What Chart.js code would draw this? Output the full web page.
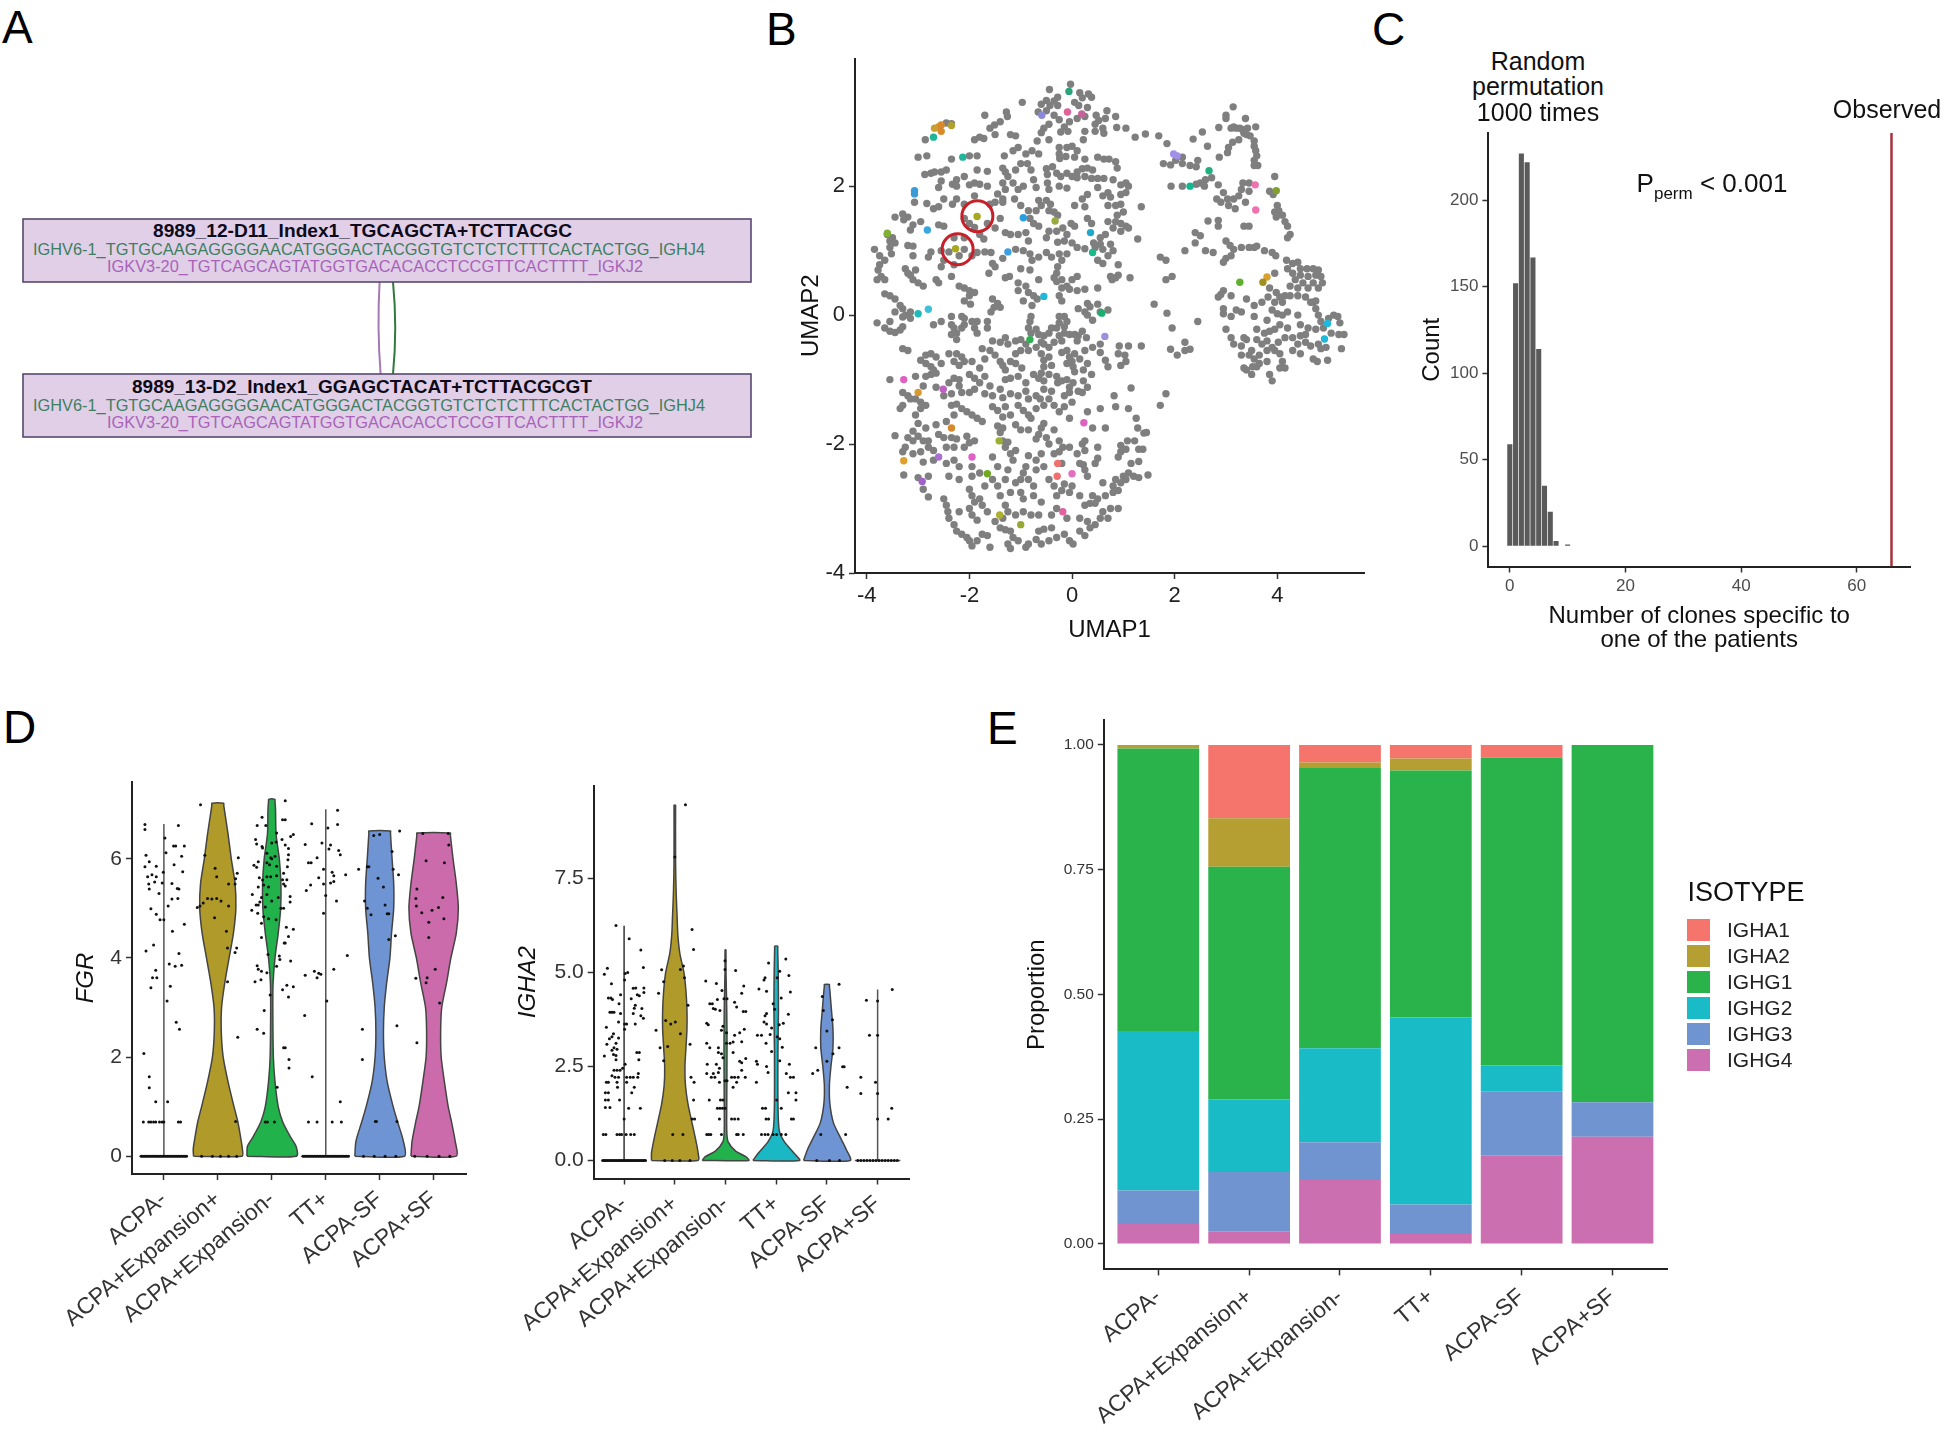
<!DOCTYPE html>
<html>
<head>
<meta charset="utf-8">
<title>Clone and isotype panels</title>
<script src="https://cdn.jsdelivr.net/npm/chart.js@4"></script>
<style>
  html, body { margin: 0; background: #fff; }
  #page { position: relative; width: 1950px; height: 1438px; overflow: hidden; font-family: "Liberation Sans", Arial, sans-serif; color: #111; }
  canvas { position: absolute; }
  .t { position: absolute; white-space: nowrap; transform: translate(-50%, -50%); }
  .letter { position: absolute; font-size: 46px; line-height: 46px; color: #000; }
  .swatch { position: absolute; left: 1687px; width: 23px; height: 22px; }
  svg { position: absolute; left: 0; top: 0; }
</style>
</head>
<body>
<div id="page">
  <div class="letter" style="left:2px;top:4px">A</div>
  <div class="letter" style="left:766px;top:6px">B</div>
  <div class="letter" style="left:1372px;top:6px">C</div>
  <div class="letter" style="left:3px;top:704px">D</div>
  <div class="letter" style="left:987px;top:705px">E</div>

  <svg width="780" height="480" font-family="Liberation Sans, Arial, sans-serif">
    <path d="M379.6 282 Q377 328 380.6 374" fill="none" stroke="#a678b5" stroke-width="2"/>
    <path d="M393 282 Q397.5 328 393 374" fill="none" stroke="#2f7a3a" stroke-width="2"/>
    <rect x="23" y="219" width="728" height="63" fill="#e0cfe7" stroke="#57496f" stroke-width="1.6"/>
    <rect x="23" y="374" width="728" height="63" fill="#e0cfe7" stroke="#57496f" stroke-width="1.6"/>
    <text x="153" y="237" font-size="18" font-weight="bold" fill="#0d0a1a" textLength="419" lengthAdjust="spacingAndGlyphs">8989_12-D11_Index1_TGCAGCTA+TCTTACGC</text>
    <text x="33" y="255" font-size="16.5" fill="#3c7f60" textLength="672" lengthAdjust="spacingAndGlyphs">IGHV6-1_TGTGCAAGAGGGGAACATGGGACTACGGTGTCTCTCTTTCACTACTGG_IGHJ4</text>
    <text x="107" y="272" font-size="16.5" fill="#a863b9" textLength="536" lengthAdjust="spacingAndGlyphs">IGKV3-20_TGTCAGCAGTATGGTGACACACCTCCGTTCACTTTT_IGKJ2</text>
    <text x="132" y="393" font-size="18" font-weight="bold" fill="#0d0a1a" textLength="460" lengthAdjust="spacingAndGlyphs">8989_13-D2_Index1_GGAGCTACAT+TCTTACGCGT</text>
    <text x="33" y="411" font-size="16.5" fill="#3c7f60" textLength="672" lengthAdjust="spacingAndGlyphs">IGHV6-1_TGTGCAAGAGGGGAACATGGGACTACGGTGTCTCTCTTTCACTACTGG_IGHJ4</text>
    <text x="107" y="428" font-size="16.5" fill="#a863b9" textLength="536" lengthAdjust="spacingAndGlyphs">IGKV3-20_TGTCAGCAGTATGGTGACACACCTCCGTTCACTTTT_IGKJ2</text>
  </svg>

  <canvas id="chartUmap" width="620" height="620" style="left:770px;top:40px"></canvas>
  <canvas id="chartPerm" width="530" height="540" style="left:1400px;top:115px"></canvas>
  <canvas id="chartFgr" width="490" height="650" style="left:0px;top:770px"></canvas>
  <canvas id="chartIgha" width="450" height="650" style="left:490px;top:770px"></canvas>
  <canvas id="chartIso" width="690" height="733" style="left:1000px;top:705px"></canvas>

  <div class="t" style="left:1538px;top:61px;font-size:25px">Random</div>
  <div class="t" style="left:1538px;top:86px;font-size:25px">permutation</div>
  <div class="t" style="left:1538px;top:112px;font-size:25px">1000 times</div>
  <div class="t" style="left:1887px;top:109px;font-size:25px">Observed</div>
  <div class="t" style="left:1712px;top:186px;font-size:26px">P<sub style="font-size:17px">perm</sub> &lt; 0.001</div>

  <div class="t" style="left:1746px;top:892px;font-size:27px">ISOTYPE</div>
  <div id="isoLegend"></div>
</div>

<script>
// ── Panel B: UMAP ───────────────────────────────────────────────────────
const umapTicksX = [-4, -2, 0, 2, 4];
const umapTicksY = [-4, -2, 0, 2];
const umapGray = [
[-0.03,3.58],[-0.44,3.5],[0.15,3.45],[0.32,3.43],[0.38,3.38],[0.2,3.37],[-0.28,3.38],[-0.35,3.32],[-0.5,3.33],[-0.43,3.25],[-0.6,3.27],[-0.28,3.25],[0.05,3.3],[0.13,3.25],[0.3,3.22],[-0.97,3.3],[-0.66,3.15],[-0.5,3.17],[0.47,3.1],[0.68,3.17],[0.52,3.02],[0.65,3.05],[0.85,3.08],[-1.28,3.15],[-1.26,3.08],[-1.7,3.1],[-1.51,2.95],[-1.6,2.9],[-1.4,3.0],[-0.35,3.1],[-0.25,3.03],[-0.05,3.0],[0.1,3.05],[0.25,3.08],[0.45,2.96],[0.6,2.9],[0.87,2.91],[1.05,2.9],[0.25,2.85],[0.22,2.72],[0.62,2.82],[0.45,2.85],
[-0.45,2.96],[-0.55,2.9],[-0.6,2.83],[-0.45,2.72],[-0.68,2.7],[-0.15,2.92],[-0.22,2.84],[-0.08,2.85],[-1.1,2.78],[-1.2,2.8],[-1.05,2.6],[-1.5,2.8],[-1.8,2.76],[-1.72,2.74],[-1.9,2.72],[-2.35,2.97],[-2.45,2.98],[-2.86,2.72],[-3.0,2.45],[-2.83,2.47],[-2.35,2.42],[-2.0,2.47],[-1.85,2.47],[-1.32,2.47],[-1.15,2.55],[-0.9,2.5],[-0.78,2.55],[-0.65,2.5],[-0.25,2.6],[-0.25,2.5],[-0.1,2.6],[0,2.62],[0.1,2.55],[-0.24,2.43],[-0.12,2.46],[0.05,2.45],[0.25,2.42],[0.5,2.45],[0.62,2.42],[0.72,2.42],[0.85,2.38],[0.88,2.28],
[-2.45,2.25],[-2.68,2.22],[-2.75,2.2],[-2.87,2.18],[-2.55,2.22],[-1.85,2.25],[-1.65,2.23],[-1.35,2.28],[-1.3,2.22],[-1.25,2.15],[-1.1,2.25],[-1.0,2.35],[-0.87,2.35],[-0.8,2.25],[-0.5,2.27],[-0.48,2.18],[-0.38,2.3],[-0.3,2.2],[-0.22,2.15],[-0.1,2.2],[0,2.15],[0.1,2.22],[0.2,2.27],[0.3,2.28],[0.4,2.25],[0.1,2.13],[0.25,2.15],[0.38,2.12],[0.5,2.12],[0.62,2.12],[0.8,2.1],[0.95,2.02],[1.05,2.05],[1.1,2.0],
[-2.55,2.08],[-2.6,1.98],[-2.33,2.03],[-2.25,2.1],[-2.25,2.0],[-2.1,2.15],[-2.0,2.02],[-1.9,2.05],[-1.8,2.03],[-1.65,2.0],[-1.35,2.05],[-1.3,1.95],[-1.45,1.88],[-1.35,1.8],[-1.15,2.05],[-1.05,1.95],[-0.95,2.0],[-0.75,2.1],[-0.7,1.98],[-0.48,2.05],[-0.45,1.95],[-0.25,2.0],[-0.1,1.97],[0.5,1.98],[0.7,1.9],[0.6,1.85],[0.75,1.83],[0.95,1.87],[1.05,1.9],[0.3,1.87],[0.2,1.8],
[-2.25,1.8],[-2.5,1.8],[-2.33,1.72],[-2.1,1.72],[-1.9,1.85],[-1.6,1.72],[-1.5,1.75],[-1.35,1.75],[-1.12,1.8],[-1.0,1.7],[-0.65,1.78],[-0.6,1.7],[-0.5,1.78],[-0.42,1.72],[-0.7,1.62],[-0.45,1.62],[-0.35,1.6],[-0.28,1.55],[0.05,1.7],[0.25,1.68],[0.7,1.7],[0.85,1.7],[0.95,1.72],[1.35,1.68],[1.0,1.6],[0.88,1.55],
[-2.83,1.73],[-2.7,1.65],[-3.07,1.75],[-2.6,1.68],[-3.45,1.52],[-3.3,1.57],[-3.2,1.52],[-3.1,1.4],[-3.15,1.32],[-3.28,1.48],[-2.95,1.45],[-2.6,1.4],[-2.5,1.38],[-2.1,1.5],[-2.0,1.42],[-1.9,1.36],[-1.65,1.42],[-1.5,1.35],[-1.4,1.5],[-0.85,1.62],[-0.82,1.5],[-0.75,1.42],[-0.65,1.38],[-0.45,1.3],[-0.3,1.3],[-0.18,1.35],[-0.1,1.25],[-0.02,1.42],[0.05,1.38],[0.3,1.5],[0.38,1.42],[0.95,1.42],[0.85,1.45],[0.7,1.45],[1.05,1.38],[0.95,1.3],[1.1,1.35],[0.55,1.2],[0.65,1.25],[0.8,1.35],
[-3.6,1.25],[-3.55,1.15],[-3.5,1.2],[-3.45,1.12],[-3.55,1.05],[-3.85,1.02],[-3.2,1.08],[-3.1,1.07],[-3.52,0.95],[-2.3,1.2],[-2.1,1.2],[-1.8,1.25],[-1.72,1.18],[-1.3,1.28],[-1.2,1.25],[-1.05,1.25],[-0.9,1.28],[-0.85,1.15],[-0.5,1.2],[-0.28,1.13],[-0.15,1.15],[0,1.12],[0.1,1.05],[0.25,1.03],[0.42,1.12],[0.45,1.05],[0.55,1.1],[0.6,1.02],[0.75,1.1],[1.28,1.18],[0.8,1.0],
[-3.75,0.92],[-3.65,0.85],[-3.1,0.92],[-2.8,0.9],[-2.75,0.98],[-2.55,1.0],[-2.4,0.98],[-2.1,1.02],[-1.95,0.92],[-1.85,0.97],[-1.7,0.98],[-1.58,0.97],[-1.35,0.88],[-1.1,1.02],[-0.95,1.0],[-0.82,0.95],[-0.78,0.85],[-0.65,0.9],[-0.5,0.97],[-0.4,0.9],[-0.25,0.95],[-0.1,0.95],[-0.2,0.85],[-0.28,0.75],[-0.3,0.65],[-0.35,0.58],[0.5,0.85],[0.6,0.8],[0.7,0.92],[0.9,0.78],
[-3.75,0.78],[-3.78,0.7],[-3.72,0.6],[-3.65,0.55],[-3.8,0.55],[-3.25,0.72],[-3.2,0.65],[-3.15,0.62],[-3.05,0.7],[-3.1,0.55],[-3.0,0.5],[-2.9,0.45],[-2.65,0.55],[-2.55,0.75],[-2.5,0.85],[-2.3,0.78],[-2.35,0.6],[-2.6,0.5],[-2.2,0.92],[-1.55,0.8],[-1.5,0.75],[-1.62,0.65],[-1.3,0.58],[-1.22,0.6],[-1.0,0.72],[-0.82,0.7],[-0.65,0.55],[-0.2,0.55],[0.1,0.6],[0.78,0.55],[0.85,0.58],[0.75,0.6],[0.9,0.62],[1.13,0.58],
[-3.65,0.33],[-3.55,0.3],[-3.45,0.25],[-2.2,0.45],[-2.1,0.42],[-2.0,0.38],[-2.0,0.3],[-1.9,0.35],[-1.05,0.5],[-0.9,0.45],[-1.05,0.38],[-0.85,0.35],[-0.75,0.3],[-0.68,0.25],[-1.55,0.25],[-1.45,0.18],[-1.52,0.12],[-1.4,0.12],[-1.58,0.05],[-0.3,0.52],[-0.2,0.42],[-0.1,0.45],[0,0.55],[-0.05,0.4],[0.1,0.38],[0.25,0.4],[0.5,0.42],[-2.1,0.22],[-1.98,0.17],[-0.95,0.22],[-0.78,0.15],[0.25,0.05],[0.35,0.13],[0.5,0.17],[0.55,0.05],[0.7,0.08],[0.12,0.1],[0.3,0.18],[-0.25,0.3],[-0.2,0.22],
[-3.35,0.15],[-3.3,0.1],[-3.15,0.05],[-3.45,0.05],[-3.3,-0.03],[-3.25,0.0],[-3.15,-0.05],[-3.55,-0.1],[-3.8,-0.12],[-3.65,-0.2],[-3.55,-0.25],[-3.45,-0.27],[-3.35,-0.23],[-3.3,-0.18],[-2.7,-0.15],[-2.55,-0.1],[-2.35,-0.02],[-2.15,-0.02],[-2.1,-0.05],[-1.95,-0.1],[-1.85,-0.1],[-1.65,-0.1],[-0.8,-0.02],[-0.82,-0.1],[-0.25,-0.02],[-0.15,-0.02],[-0.1,-0.1],[-0.25,-0.12],[-0.3,-0.2],[-0.15,-0.18],[0.3,0.0],[0.4,-0.08],[-2.35,-0.15],[-2.3,-0.2],[-2.25,-0.28],[-2.15,-0.2],[-2.1,-0.15],[-2.35,-0.3],[-2.25,-0.38],[-1.9,-0.2],[-1.85,-0.28],[-1.65,-0.2],
[-0.85,-0.2],[-0.7,-0.22],[-0.65,-0.3],[-0.8,-0.28],[-0.55,-0.32],[-0.45,-0.28],[-0.4,-0.2],[-0.15,-0.28],[-0.05,-0.3],[0.05,-0.3],[0.12,-0.32],[0.2,-0.25],[0.28,-0.35],[0.1,-0.4],[-0.25,-0.32],[-0.2,-0.4],[-0.35,-0.42],[-1.55,-0.4],[-1.4,-0.42],[-1.3,-0.35],[-1.25,-0.45],[-1.1,-0.4],[-1.0,-0.38],[-0.9,-0.45],[-0.55,-0.45],[-0.45,-0.5],[-0.7,-0.5],[-0.6,-0.42],[0.4,-0.5],[0.55,-0.45],[0.92,-0.48],[1.1,-0.48],[1.35,-0.48],
[-3.3,-0.52],[-3.2,-0.55],[-2.95,-0.7],[-2.85,-0.62],[-2.75,-0.6],[-2.65,-0.65],[-2.4,-0.6],[-2.25,-0.6],[-2.15,-0.65],[-1.75,-0.52],[-1.6,-0.55],[-1.7,-0.68],[-1.5,-0.62],[-1.1,-0.6],[-1.0,-0.55],[-0.85,-0.55],[-0.6,-0.6],[-0.55,-0.7],[-0.45,-0.65],[-0.2,-0.58],[-0.1,-0.55],[-0.05,-0.65],[0.05,-0.6],[0.15,-0.68],[0.25,-0.55],[0.55,-0.58],[0.9,-0.6],[1.03,-0.62],[1.05,-0.72],
[-2.85,-0.75],[-2.75,-0.8],[-2.7,-0.85],[-2.55,-0.75],[-2.3,-0.72],[-2.2,-0.78],[-2.1,-0.72],[-1.95,-0.72],[-1.8,-0.82],[-1.4,-0.72],[-1.35,-0.78],[-1.3,-0.85],[-1.2,-0.72],[-1.1,-0.75],[-0.98,-0.82],[-0.55,-0.8],[-0.6,-0.9],[-0.4,-0.78],[-0.1,-0.75],[0.0,-0.72],[0.02,-0.8],[0.05,-0.88],[0.3,-0.75],[0.22,-0.85],[0.7,-0.8],[0.95,-0.78],[0.65,-0.7],
[-2.85,-0.95],[-2.75,-0.92],[-2.65,-0.9],[-3.05,-0.95],[-3.55,-1.0],[-2.65,-1.12],[-2.4,-1.05],[-2.3,-0.98],[-2.2,-1.0],[-2.0,-0.92],[-1.9,-0.98],[-1.8,-1.05],[-1.7,-0.95],[-1.6,-1.1],[-1.3,-1.0],[-1.2,-0.98],[-1.05,-0.95],[-0.9,-1.05],[-0.75,-0.92],[-0.65,-0.98],[-0.55,-1.02],[-0.45,-0.92],[-0.3,-0.95],[-0.28,-1.05],[-0.2,-1.02],[-0.1,-1.0],[-0.05,-1.12],[0.02,-1.05],[0.22,-1.02],[0.3,-1.12],[0.38,-0.92],[0.2,-1.2],
[-2.9,-1.1],[-3.3,-1.2],[-3.2,-1.25],[-3.15,-1.3],[-3.3,-1.4],[-3.35,-1.45],[-3.05,-1.3],[-2.95,-1.35],[-2.85,-1.4],[-2.95,-1.45],[-2.5,-1.25],[-2.35,-1.22],[-2.15,-1.2],[-2.2,-1.1],[-2.0,-1.2],[-1.9,-1.15],[-1.7,-1.22],[-1.55,-1.25],[-1.4,-1.15],[-1.35,-1.28],[-1.2,-1.22],[-1.05,-1.25],[-0.9,-1.18],[-0.85,-1.3],[-0.7,-1.25],[-0.55,-1.15],[-0.62,-1.3],[-0.55,-1.4],[-0.45,-1.3],[-0.4,-1.18],[-0.15,-1.25],[-0.05,-1.2],[0.0,-1.35],[0.12,-1.18],[0.82,-1.25],[1.15,-1.13],[1.83,-1.22],
[-2.35,-1.4],[-2.25,-1.38],[-2.15,-1.45],[-2.05,-1.5],[-1.95,-1.55],[-1.85,-1.6],[-1.75,-1.65],[-1.55,-1.42],[-1.45,-1.48],[-1.3,-1.42],[-1.2,-1.55],[-1.35,-1.58],[-1.05,-1.4],[-0.95,-1.48],[-0.85,-1.55],[-0.7,-1.45],[-0.8,-1.6],[-0.35,-1.4],[-0.25,-1.5],[-0.15,-1.42],[0.3,-1.5],[0.55,-1.45],[0.85,-1.42],[1.1,-1.45],[1.72,-1.4],[-0.05,-1.6],[1.25,-1.6],
[-3.05,-1.55],[-3.0,-1.68],[-3.1,-1.8],[-2.85,-1.75],[-2.65,-1.7],[-2.45,-1.65],[-2.3,-1.55],[-1.45,-1.72],[-1.35,-1.75],[-1.4,-1.82],[-1.1,-1.7],[-1.0,-1.78],[-0.85,-1.78],[-0.65,-1.85],[-0.6,-1.75],[-0.55,-1.68],[-0.35,-1.78],[0.65,-1.75],[0.4,-1.75],[1.28,-1.75],[1.4,-1.83],[1.45,-1.82],
[-3.45,-1.87],[-3.2,-1.9],[-3.1,-1.95],[-3.0,-1.88],[-2.9,-1.95],[-2.8,-1.95],[-2.6,-1.85],[-2.5,-1.9],[-2.35,-1.9],[-2.25,-1.92],[-2.05,-1.88],[-2.0,-1.98],[-1.9,-1.95],[-1.35,-1.95],[-1.25,-1.97],[-1.3,-2.05],[-0.7,-1.92],[-0.5,-1.9],[-0.45,-2.0],[-0.25,-1.95],[-0.18,-2.05],[0.25,-1.95],[0.2,-2.0],[0.5,-2.05],[0.95,-2.02],[1.08,-1.95],[1.22,-1.95],
[-3.25,-2.05],[-3.3,-2.12],[-3.1,-2.15],[-2.95,-2.12],[-2.8,-2.05],[-2.7,-2.1],[-2.45,-2.05],[-2.3,-2.05],[-2.1,-2.05],[-1.55,-2.2],[-1.2,-2.15],[-1.1,-2.1],[-1.15,-2.25],[-0.85,-2.18],[-0.7,-2.25],[-0.6,-2.15],[-0.35,-2.15],[-0.25,-2.12],[-0.05,-2.05],[0.1,-2.15],[0.25,-2.1],[0.5,-2.22],[0.45,-2.3],[0.9,-2.2],[0.95,-2.12],[1.05,-2.08],[1.3,-2.08],[1.38,-2.08],
[-2.9,-2.28],[-2.7,-2.25],[-2.45,-2.3],[-2.2,-2.35],[-2.3,-2.25],[-1.95,-2.35],[-1.45,-2.35],[-1.25,-2.4],[-1.3,-2.55],[-0.9,-2.35],[-0.95,-2.45],[-0.7,-2.4],[-0.55,-2.35],[-0.2,-2.3],[0.15,-2.3],[0.22,-2.32],[0.25,-2.4],[0.3,-2.5],[1.15,-2.3],[1.3,-2.27],[1.0,-2.5],[1.1,-2.45],[1.2,-2.5],[1.3,-2.52],
[-3.28,-2.48],[-3.0,-2.52],[-2.9,-2.7],[-2.8,-2.5],[-2.4,-2.5],[-2.2,-2.55],[-1.95,-2.5],[-1.8,-2.45],[-1.55,-2.55],[-1.45,-2.65],[-1.1,-2.6],[-1.0,-2.55],[-0.85,-2.55],[-0.75,-2.65],[-0.45,-2.55],[-0.35,-2.65],[-0.15,-2.62],[0.0,-2.65],[0.6,-2.6],[0.8,-2.65],[0.85,-2.55],[0.95,-2.6],[1.05,-2.55],[1.48,-2.48],[0.8,-2.75],[0.9,-2.72],
[-2.8,-2.82],[-2.5,-2.85],[-2.45,-2.95],[-2.42,-3.05],[-2.0,-2.7],[-1.95,-2.8],[-1.9,-2.9],[-1.8,-2.85],[-1.7,-2.65],[-1.4,-2.8],[-1.3,-2.95],[-1.2,-2.75],[-1.0,-2.75],[-0.95,-2.85],[-0.75,-2.8],[-0.6,-2.9],[-0.3,-2.8],[-0.2,-2.72],[-0.05,-2.75],[0.15,-2.8],[0.4,-2.8],[0.5,-2.85],[0.65,-2.8],[0.25,-2.95],[0.35,-2.92],[0.45,-2.92],
[-2.2,-3.05],[-2.4,-3.15],[-2.3,-3.25],[-2.0,-3.0],[-1.95,-3.1],[-1.85,-3.18],[-1.75,-2.95],[-1.65,-3.05],[-1.5,-3.2],[-1.35,-3.15],[-1.25,-3.05],[-1.1,-3.1],[-0.95,-3.05],[-0.8,-3.1],[-0.65,-3.1],[-0.4,-3.1],[-0.3,-3.0],[-0.1,-3.15],[0.15,-3.15],[0.3,-3.2],[0.55,-3.15],[0.6,-3.05],[0.75,-3.0],[0.9,-3.0],[0.7,-3.15],
[-2.25,-3.35],[-2.15,-3.4],[-2.05,-3.45],[-2.0,-3.5],[-1.95,-3.58],[-1.85,-3.5],[-1.75,-3.4],[-1.65,-3.42],[-1.6,-3.6],[-1.4,-3.3],[-1.3,-3.33],[-1.2,-3.35],[-1.15,-3.45],[-1.25,-3.55],[-1.2,-3.62],[-1.05,-3.5],[-0.9,-3.6],[-0.85,-3.55],[-0.65,-3.35],[-0.55,-3.32],[-0.7,-3.48],[-0.6,-3.55],[-0.45,-3.5],[-0.4,-3.3],[-0.3,-3.45],[-0.15,-3.4],[-0.05,-3.5],[0.02,-3.55],[0.15,-3.35],[0.25,-3.42],[0.35,-3.3],[0.45,-3.25],
[1.23,2.76],[1.43,2.81],[1.69,2.78],[1.85,2.66],[2.36,2.73],[2.54,2.84],[2.64,2.62],[2.86,2.91],[3.14,3.23],[3.0,3.1],[3.0,3.05],[3.38,3.05],[3.1,2.9],[3.15,2.92],[3.2,2.9],[3.27,2.9],[3.32,2.88],[3.42,2.9],[3.58,2.92],[3.35,2.82],[3.4,2.8],[3.47,2.78],[3.55,2.7],[3.55,2.62],[3.58,2.55],[3.6,2.47],[3.55,2.4],[3.55,2.32],[3.62,2.32],[3.13,2.68],[3.05,2.6],[3.25,2.72],[3.03,2.52],[2.87,2.45],[2.45,2.4],[2.42,2.3],[2.3,2.32],[2.15,2.45],[2.15,2.35],[2.02,2.4],[1.78,2.35],[1.92,2.33],
[2.72,2.13],[2.6,2.1],[2.5,2.05],[2.42,2.03],[2.58,2.0],[2.85,2.02],[2.95,1.9],[3.03,1.8],[3.15,1.8],[3.25,1.85],[3.3,1.95],[3.33,2.05],[3.45,2.05],[3.45,1.92],[3.38,1.75],[3.18,1.65],[3.05,1.7],[2.9,1.75],[2.82,1.8],[3.95,2.15],[3.85,1.92],[3.92,1.87],[4.0,1.7],[4.03,1.62],[3.98,1.52],[3.95,1.6],[4.1,1.55],[4.15,1.45],[4.2,1.38],[4.25,1.25],[4.2,1.2],[1.93,2.0],[2.15,2.0],[3.45,1.38],[3.35,1.38],
[2.65,1.46],[2.85,1.47],[2.85,1.38],[2.4,1.28],[2.5,1.23],[2.4,1.12],[3.0,1.15],[3.08,1.08],[3.15,1.02],[3.3,1.05],[3.45,1.05],[3.55,1.05],[3.6,1.07],[3.75,1.0],[3.9,0.97],[3.97,0.92],[3.1,0.92],[2.75,0.97],[2.6,1.0],[3.0,0.88],[2.95,0.82],[2.2,1.0],[1.72,0.9],[1.83,0.85],[1.83,0.55],[1.95,0.6],[1.6,0.17],[1.85,0.03],[1.95,-0.2],[1.92,-0.53],[2.05,-0.62],[2.2,-0.55],[2.3,-0.53],[2.2,-0.42],[2.45,-0.1],
[4.18,0.85],[4.3,0.8],[4.4,0.82],[4.45,0.72],[4.2,0.72],[4.3,0.65],[4.45,0.62],[4.58,0.72],[4.7,0.72],[4.8,0.7],[4.6,0.6],[4.75,0.62],[4.85,0.6],[4.35,0.55],[4.5,0.5],[4.7,0.5],[4.88,0.5],[4.8,0.42],[4.6,0.42],[4.4,0.42],[4.25,0.45],[3.95,0.65],[3.85,0.42],[3.98,0.35],[4.05,0.28],[4.1,0.2],[3.95,0.2],[3.82,0.28],[4.15,0.3],[4.25,0.3],[4.4,0.3],[4.55,0.28],[4.7,0.2],[4.75,0.22],[3.55,0.15],[3.7,0.2],[3.4,0.25],[3.1,0.3],[2.95,0.38],[2.9,0.32],[2.85,0.28],[3.3,0.05],
[2.95,0.1],[2.95,0.02],[3.1,-0.02],[3.2,0.08],[3.55,-0.02],[3.8,-0.08],[3.9,0.08],[4.0,0.02],[4.1,0.0],[4.2,0.05],[4.4,-0.0],[4.65,0.2],[4.75,0.1],[4.8,0.0],[4.85,-0.1],[4.9,-0.2],[5.0,-0.05],[5.1,0.0],[5.18,-0.02],[5.22,-0.12],[5.3,-0.3],[5.2,-0.3],[5.05,-0.28],[5.25,-0.52],[3.0,-0.22],[3.1,-0.35],[3.35,-0.35],[3.4,-0.38],[3.6,-0.22],[3.75,-0.28],[3.85,-0.25],[3.95,-0.22],[4.05,-0.15],[4.2,-0.2],[4.45,-0.15],[4.6,-0.2],[4.75,-0.22],[4.55,-0.3],
[3.6,-0.38],[3.7,-0.45],[3.8,-0.4],[3.9,-0.5],[4.02,-0.42],[4.15,-0.35],[4.3,-0.35],[4.45,-0.32],[4.55,-0.42],[4.65,-0.48],[4.8,-0.45],[4.95,-0.5],[4.85,-0.52],[4.4,-0.45],[3.15,-0.45],[3.3,-0.48],[3.5,-0.55],[3.65,-0.62],[3.8,-0.55],[3.95,-0.55],[4.05,-0.6],[4.3,-0.55],[4.45,-0.6],[4.7,-0.68],[4.78,-0.72],[4.98,-0.7],[3.3,-0.62],[3.45,-0.62],[3.55,-0.68],[3.52,-0.8],[3.6,-0.8],[3.35,-0.82],[3.4,-0.85],[3.5,-0.92],[3.65,-0.75],[3.8,-0.72],[4.1,-0.72],[4.15,-0.82],[4.05,-0.82],[3.85,-0.92],[3.9,-1.02]
];
const umapColored = [
[-0.06,3.47,"#2aa57a"],[-0.09,3.15,"#e0609a"],[0.19,3.12,"#c8609a"],[-0.59,3.1,"#8a8ad8"],[-2.6,2.92,"#d8892b"],[-2.55,2.95,"#d8892b"],[-2.68,2.9,"#c9a030"],[-2.35,2.94,"#b0a030"],[-2.7,2.76,"#1fb59a"],[-2.55,2.85,"#d8892b"],[-2.13,2.45,"#1fb59a"],[-3.07,1.93,"#3b9bd8"],[-3.07,1.88,"#3b9bd8"],[-2.82,1.32,"#38a8e0"],[-1.85,1.53,"#a8a820"],[-0.95,1.51,"#2a9fe0"],[-0.33,1.46,"#9aaa40"],[0.36,1.28,"#20a8c8"],[-1.25,0.98,"#3a9fe0"],[0.4,0.97,"#18b888"],[-2.27,1.03,"#a8a820"],[-3.6,1.27,"#7fb030"],[-0.55,0.29,"#20b8d8"],[-3.0,0.02,"#20b8b8"],[-2.8,0.09,"#40c0d8"],[0.58,0.03,"#18b070"],[0.64,-0.33,"#9a90e0"],[-0.82,-0.38,"#30b050"],[-3.28,-1.0,"#e060c0"],[-2.51,-1.15,"#c060c0"],[-3.0,-1.2,"#d89a30"],[-2.35,-1.75,"#d8892b"],[-1.42,-1.95,"#9ab030"],[0.23,-1.67,"#e060c0"],[-3.28,-2.26,"#e0a030"],[-2.6,-2.2,"#a870d0"],[-1.95,-2.2,"#e060c8"],[-0.28,-2.3,"#f07070"],[-0.29,-2.5,"#f07070"],[0.0,-2.46,"#e070c0"],[-1.65,-2.46,"#70a820"],[-2.92,-2.58,"#a060c8"],[-1.41,-3.1,"#b0b030"],[-1.0,-3.25,"#98a830"],[-0.18,-3.05,"#e060a0"],[1.98,2.5,"#a090e8"],[2.05,2.47,"#a090e8"],[2.3,2.0,"#10b890"],[2.67,2.24,"#20b080"],[3.57,2.02,"#f070b0"],[3.98,1.93,"#80a030"],[3.58,1.63,"#f070b0"],[3.27,0.51,"#60b030"],[3.8,0.59,"#d8a030"],[3.72,0.51,"#a09020"],[4.98,-0.13,"#20b8d8"],[4.92,-0.37,"#20b8d8"]
];
const umapCircled = [[-1.845, 1.535], [-2.23, 1.02]];

// ── Panel C: permutation histogram ──────────────────────────────────────
const permBins = [0, 1, 2, 3, 4, 5, 6, 7, 8, 10];
const permCounts = [59, 152, 227, 222, 167, 114, 35, 20, 3, 1];
const permObserved = 66;
const permTicksX = [0, 20, 40, 60];
const permTicksY = [0, 50, 100, 150, 200];

// ── Panels D and E share these groups ───────────────────────────────────
const groups = ["ACPA-", "ACPA+Expansion+", "ACPA+Expansion-", "TT+", "ACPA-SF", "ACPA+SF"];
const groupTicks = [0, 1, 2, 3, 4, 5];
const violinColors = ["#f5736b", "#b09a2a", "#22b24c", "#1ab8c4", "#6f94d3", "#cb6bab"];

// ── Panel D: FGR ────────────────────────────────────────────────────────
const fgrTicks = [0, 2, 4, 6];
const fgrLevels = [
  [0, 0.004, 6.7],
  [0, 0.15, 0.4, 0.7, 1, 1.5, 2, 2.5, 3, 3.5, 4, 4.5, 5, 5.5, 6, 6.5, 7.08, 7.12],
  [0, 0.2, 0.4, 0.7, 1, 1.5, 2, 3, 3.5, 4, 4.5, 5, 5.5, 6, 6.5, 7, 7.16, 7.2],
  [0, 0.004, 7.0],
  [0, 0.3, 0.7, 1, 1.5, 2, 2.5, 3, 3.5, 4, 4.5, 5, 5.5, 6, 6.52, 6.56],
  [0, 0.3, 0.7, 1, 1.5, 2, 2.5, 3, 3.5, 4, 4.5, 5, 5.5, 6, 6.48, 6.52]
];
const fgrWidths = [
  [0.45, 0.003, 0.003],
  [0.45, 0.455, 0.42, 0.37, 0.30, 0.19, 0.10, 0.065, 0.07, 0.13, 0.21, 0.29, 0.335, 0.32, 0.25, 0.19, 0.11, 0.11],
  [0.46, 0.45, 0.34, 0.20, 0.12, 0.06, 0.03, 0.02, 0.025, 0.06, 0.12, 0.165, 0.17, 0.14, 0.08, 0.07, 0.06, 0.06],
  [0.45, 0.003, 0.003],
  [0.46, 0.44, 0.33, 0.25, 0.14, 0.085, 0.07, 0.085, 0.13, 0.19, 0.22, 0.26, 0.26, 0.23, 0.20, 0.20],
  [0.42, 0.40, 0.33, 0.27, 0.20, 0.14, 0.13, 0.15, 0.24, 0.32, 0.42, 0.458, 0.42, 0.36, 0.31, 0.31]
];
const denseZeroRow = [-.42,-.39,-.36,-.33,-.3,-.27,-.24,-.21,-.18,-.15,-.12,-.09,-.06,-.03,0,.03,.06,.09,.12,.15,.18,.21,.24,.27,.3,.33,.36,.39,.42];
const fgrDots = [
  [[-.35,6.69],[-.35,6.59],[-.33,6.07],[-.27,5.94],[-.35,5.84],[-.14,5.85],[-.3,5.64],[-.22,5.68],[-.14,5.64],[-.28,5.49],[-.17,5.53],[-.27,5.39],[-.09,5.3],[-.03,5.51],[.02,6.42],[.04,6.12],[-.01,5.73],[.08,5.05],[-.24,4.99],[-.14,4.88],[-.07,4.77],[0,4.77],[.27,6.67],[.18,6.26],[.22,6.26],[.38,6.26],[.33,6.05],[.19,5.88],[.35,5.74],[.15,5.5],[.25,5.4],[.28,5.39],[.15,5.19],[.26,5.2],[.38,4.68],[.16,4.54],[-.33,4.14],[-.19,4.26],[.1,3.88],[.21,3.83],[.28,4.09],[.33,3.85],[-.15,3.75],[-.21,3.6],[-.13,3.6],[-.24,3.4],[.12,3.43],[.06,3.13],[.23,2.7],[.29,2.56],[-.37,2.07],[-.27,1.6],[-.27,1.38],[-.15,1.1],[.07,1.1],[-.38,.69],[-.28,.69],[-.24,.69],[-.19,.69],[-.15,.69],[-.08,.69],[-.03,.69],[0,.69],[.27,.69],[.31,.69]],
  [[-.32,7.09],[-.24,6.07],[-.05,5.81],[-.02,5.64],[-.38,5.02],[-.33,5.05],[-.27,5.11],[-.19,5.2],[-.11,5.19],[-.02,5.2],[.06,5.15],[-.06,4.81],[.2,5.05],[.2,5.49],[.16,4.54],[.18,4.2],[.38,6.02],[.36,5.71],[.33,5.6],[.32,5.49],[.35,4.2],[.32,4.11],[.18,3.52],[.37,2.4],[.33,.7],[-.3,0],[-.1,0],[.05,0],[.2,0],[.35,0]],
  [[.25,7.17],[-.18,6.84],[.2,6.79],[.25,6.79],[-.27,6.67],[-.11,6.67],[.4,6.49],[.35,6.45],[-.3,6.39],[.09,6.52],[.19,6.39],[-.28,6.3],[-.18,6.25],[-.17,6.22],[0,6.32],[.08,6.34],[.25,6.28],[.31,6.21],[-.09,6.11],[-.02,6.02],[.06,6.05],[.31,6.08],[.3,5.98],[-.25,5.94],[-.33,5.87],[-.28,5.83],[-.09,5.92],[-.04,5.88],[0,6.0],[.09,5.85],[.29,5.84],[.22,5.71],[-.23,5.62],[-.17,5.57],[-.09,5.64],[-.02,5.64],[.09,5.66],[.2,5.58],[.28,5.58],[-.25,5.43],[-.15,5.47],[-.06,5.43],[.22,5.49],[.25,5.45],[-.36,5.28],[-.09,5.28],[.34,5.24],[-.19,5.22],[.12,5.22],[0,5.15],[-.29,5.07],[-.25,5.07],[-.22,5.13],[.34,5.13],[-.12,5.03],[.17,5.0],[.22,5.0],[-.37,4.96],[-.26,4.9],[-.15,4.83],[.08,4.77],[-.06,4.79],[-.19,4.7],[.27,4.62],[.4,4.58],[-.19,4.41],[.31,4.43],[.25,4.3],[.23,4.3],[-.07,4.07],[.14,4.04],[.15,3.97],[.09,3.83],[.35,3.94],[-.27,3.84],[-.25,3.77],[-.19,3.73],[-.09,3.7],[-.31,3.52],[-.2,3.56],[.28,3.45],[.2,3.36],[.4,3.42],[.31,3.21],[-.03,3.25],[-.14,2.94],[-.27,2.56],[-.15,2.48],[.25,2.19],[.22,2.19],[.32,1.95],[.32,1.78],[.1,1.39],[-.12,.69],[-.08,.69],[.05,.69]],
  [[.22,6.98],[-.26,6.71],[.22,6.69],[.04,6.62],[-.38,6.29],[-.07,6.32],[.09,6.28],[.06,6.2],[.24,6.17],[.27,6.08],[-.16,6.02],[-.32,5.92],[-.27,5.92],[-.04,5.79],[.12,5.73],[.15,5.66],[-.13,5.62],[.37,5.68],[.15,5.54],[.09,5.51],[-.04,5.49],[-.28,5.47],[-.36,5.36],[0,5.26],[.2,5.15],[-.04,4.9],[.4,4.05],[.15,3.77],[-.21,3.73],[-.38,3.65],[-.09,3.67],[-.13,3.69],[-.16,3.6],[.02,3.13],[-.39,2.84],[-.25,1.6],[.27,1.1],[-.32,.69],[-.16,.69],[.12,.69],[.29,.69]],
  [[.37,6.56],[-.11,6.47],[0,6.49],[.23,6.15],[-.2,5.84],[-.23,5.84],[-.39,5.79],[.25,5.79],[.35,5.68],[-.03,5.61],[.07,5.43],[-.28,5.15],[.1,5.07],[-.23,5.0],[.14,4.89],[.17,4.89],[-.16,4.87],[.29,4.45],[.17,4.37],[-.32,2.56],[.32,2.63],[-.32,1.95],[-.08,.7],[-.06,.7],[.32,.7],[-.3,0],[-.1,0],[.1,0],[.3,0]],
  [[-.2,6.51],[.27,6.51],[.28,6.28],[-.14,5.96],[.2,5.92],[-.31,5.39],[-.33,5.2],[-.32,5.05],[-.22,4.91],[-.03,4.96],[.09,5.02],[.17,5.22],[.19,4.79],[-.09,4.72],[-.09,4.41],[.03,3.77],[-.12,3.6],[-.14,3.5],[-.33,3.59],[.11,3.09],[-.31,2.29],[-.35,0],[-.12,0],[.1,0],[.3,0]]
];

// ── Panel D: IGHA2 ──────────────────────────────────────────────────────
const ighaTicks = [0, 2.5, 5, 7.5];
const ighaLevels = [
  [0, 0.004, 6.22],
  [0, 0.2, 0.5, 1, 1.5, 2, 2.5, 3, 3.5, 4, 4.5, 5, 5.5, 6, 6.5, 7, 7.5, 8, 9.4, 9.45],
  [0, 0.1, 0.25, 0.5, 0.8, 1.5, 3, 4, 5, 5.6],
  [0, 0.2, 0.5, 0.8, 1.5, 3, 4, 5, 5.65, 5.7],
  [0, 0.3, 0.6, 1, 1.5, 2, 2.5, 3, 3.5, 4, 4.5, 4.64, 4.68],
  [0, 0.004, 4.55]
];
const ighaWidths = [
  [0.45, 0.003, 0.003],
  [0.46, 0.46, 0.42, 0.34, 0.26, 0.21, 0.20, 0.22, 0.24, 0.24, 0.22, 0.18, 0.10, 0.06, 0.045, 0.03, 0.02, 0.015, 0.015, 0.015],
  [0.46, 0.40, 0.20, 0.05, 0.025, 0.025, 0.03, 0.025, 0.01, 0.008],
  [0.46, 0.35, 0.16, 0.06, 0.035, 0.035, 0.045, 0.04, 0.03, 0.03],
  [0.46, 0.38, 0.27, 0.13, 0.06, 0.05, 0.08, 0.12, 0.12, 0.09, 0.06, 0.05, 0.05],
  [0.45, 0.003, 0.003]
];
const ighaDots = [
  [[-.16,6.25],[.1,5.9],[.33,5.6],[-.33,5.11],[.38,5.13],[-.39,4.95],[.07,5.0],[.02,4.97],[.01,4.8],[-.25,4.7],[.18,4.58],[.23,4.59],[.39,4.59],[.39,4.47],[-.07,4.41],[.26,4.41],[.3,4.38],[-.31,4.32],[-.26,4.32],[-.23,4.28],[.14,4.3],[-.1,4.17],[.22,4.13],[.2,4.05],[-.28,3.94],[-.24,3.94],[-.2,3.94],[-.07,3.91],[.35,4.04],[.18,3.91],[.33,3.85],[.38,3.78],[-.11,3.68],[.01,3.63],[.05,3.63],[.22,3.63],[-.35,3.54],[.01,3.49],[-.21,3.37],[-.29,3.24],[-.24,3.29],[-.11,3.26],[-.34,3.09],[-.16,3.12],[-.2,3.0],[-.14,2.96],[-.24,2.93],[.25,2.87],[.3,2.87],[-.21,2.82],[-.16,2.79],[-.39,2.78],[-.16,2.68],[.29,2.68],[.02,2.56],[-.03,2.45],[-.08,2.4],[-.2,2.4],[-.14,2.4],[.28,2.31],[-.24,2.25],[-.18,2.21],[-.11,2.21],[.05,2.21],[.12,2.21],[.18,2.21],[.27,2.21],[-.35,2.08],[-.31,2.08],[-.14,2.08],[.05,2.08],[-.13,1.95],[.2,1.95],[.15,1.8],[-.37,1.8],[-.31,1.8],[-.37,1.61],[-.31,1.61],[-.09,1.61],[-.37,1.41],[-.28,1.41],[.09,1.39],[.32,1.39],[0,1.1],[-.41,.69],[-.36,.69],[-.14,.69],[-.09,.69],[-.05,.69],[.04,.69],[.13,.69],[.2,.69]],
  [[.21,9.46],[0,8.07],[.34,6.14],[.37,5.61],[-.26,5.07],[.11,5.08],[.17,5.17],[-.22,4.75],[.19,4.86],[-.32,4.45],[.26,4.13],[-.37,3.46],[-.18,3.72],[-.08,3.63],[.01,3.68],[.11,3.37],[.3,3.09],[-.29,3.0],[-.14,3.03],[-.22,2.65],[.32,2.21],[.38,2.08],[.37,1.61],[.34,1.1],[.39,1.1],[-.04,.69],[.16,.69],[-.2,0],[-.05,0],[.1,0],[.3,0]],
  [[.2,5.05],[-.39,4.77],[-.18,4.71],[-.07,4.52],[-.01,5.31],[-.01,5.08],[.36,4.64],[.32,4.45],[-.31,4.17],[-.26,4.17],[-.16,4.28],[-.03,4.3],[.03,4.3],[.18,4.21],[-.24,4.04],[-.2,4.02],[.22,4.08],[-.11,3.99],[.35,3.96],[.4,3.96],[-.37,3.65],[-.34,3.61],[-.05,3.57],[.37,3.49],[-.08,3.46],[.02,3.4],[.28,3.4],[.18,3.33],[-.37,3.12],[-.31,3.0],[.02,3.12],[.09,3.12],[.15,3.15],[.32,3.16],[-.14,3.0],[-.14,2.87],[.15,2.87],[-.08,2.84],[-.05,2.73],[.28,2.64],[.32,2.6],[.4,2.71],[-.36,2.56],[-.18,2.56],[-.12,2.45],[-.37,2.31],[-.24,2.31],[-.14,2.34],[.32,2.4],[-.28,2.21],[-.21,2.21],[-.12,2.08],[-.01,2.12],[.03,2.12],[.12,2.21],[.18,2.21],[.25,2.21],[.39,2.21],[.22,2.08],[.15,1.95],[-.32,1.61],[-.1,1.61],[-.05,1.61],[-.16,1.39],[-.11,1.39],[-.06,1.39],[-.01,1.39],[-.12,1.1],[.12,1.1],[.18,1.1],[.25,1.1],[-.37,.69],[-.33,.69],[-.29,.69],[-.08,.69],[.22,.69],[.25,.69],[.35,.69]],
  [[.19,5.36],[-.15,5.25],[.07,5.03],[.02,4.86],[.25,4.92],[-.22,4.86],[-.24,4.8],[-.34,4.56],[-.19,4.5],[.28,4.48],[.1,4.32],[-.06,4.17],[-.03,4.02],[-.19,3.91],[-.22,3.85],[.24,3.89],[-.24,3.68],[-.19,3.63],[.14,3.65],[.06,3.61],[-.09,3.52],[-.37,3.33],[-.29,3.33],[-.12,3.35],[.02,3.29],[.07,3.24],[-.2,3.12],[.12,3.01],[-.09,2.9],[-.39,2.64],[-.37,2.56],[.26,2.56],[.07,2.65],[-.19,2.5],[-.16,2.34],[.2,2.31],[.28,2.21],[.34,2.21],[-.39,2.08],[.24,1.8],[.39,1.8],[.01,1.61],[.39,1.61],[-.27,1.39],[-.21,1.39],[.1,1.39],[-.2,1.1],[-.15,1.1],[.3,1.1],[.34,1.1],[-.29,.69],[-.22,.69],[-.16,.69],[-.06,.69],[.01,.69],[.1,.69],[.19,.69]],
  [[.24,4.69],[-.09,4.36],[-.07,3.99],[.11,3.74],[0,3.44],[-.22,3.0],[.24,3.0],[.12,2.84],[0,2.64],[.31,2.49],[.34,2.49],[-.18,2.4],[-.28,2.31],[.4,1.95],[-.12,.69],[.37,.69],[-.2,0],[.05,0],[.25,0]],
  [[.29,4.55],[-.22,4.26],[-.16,3.33],[0,3.33],[-.33,2.21],[-.04,2.08],[-.33,1.78],[0,1.78],[.28,1.39],[.21,1.1],[0,4.24],[0,1.1]]
];

// ── Panel E: isotype proportions ────────────────────────────────────────
const isoTicks = [0, 0.25, 0.5, 0.75, 1];
const isoNames = ["IGHA1", "IGHA2", "IGHG1", "IGHG2", "IGHG3", "IGHG4"];
const isoColors = ["#f5746b", "#b59f32", "#2ab34b", "#19bcc6", "#6f94d0", "#cc6fb0"];
const isoIGHG4 = [0.04, 0.0245, 0.128, 0.02, 0.178, 0.215];
const isoIGHG3 = [0.067, 0.1195, 0.076, 0.059, 0.128, 0.069];
const isoIGHG2 = [0.32, 0.146, 0.188, 0.375, 0.052, 0];
const isoIGHG1 = [0.566, 0.466, 0.562, 0.495, 0.617, 0.716];
const isoIGHA2 = [0.005, 0.097, 0.011, 0.024, 0, 0];
const isoIGHA1 = [0.002, 0.147, 0.035, 0.027, 0.025, 0];

const FONT = "'Liberation Sans', Arial, sans-serif";

// afterFit hook: keeps each axis box at a fixed size so the plot area lands where it should
const fixBox = size => scale => {
  if (scale.isHorizontal()) {
    scale.height = size;
    scale.paddingLeft = 0;
    scale.paddingRight = 0;
  } else {
    scale.width = size;
    scale.paddingTop = 0;
    scale.paddingBottom = 0;
  }
};

function axis({ min, max, ticks, box, size, color = "#222", fmt = v => String(v), rotation = 0, title, titleSize = 24, titleStyle = "normal", titlePad = 0, tickPad = 4, titleLine = 1.2 }) {
  return {
    type: "linear",
    min, max,
    afterBuildTicks: s => { s.ticks = ticks.map(v => ({ value: v })); },
    afterFit: fixBox(box),
    border: { color: "#222", width: 2 },
    grid: { offset: false, drawOnChartArea: false, drawTicks: true, tickLength: 6, tickColor: "#333", tickWidth: 1.5 },
    ticks: {
      autoSkip: false, color, padding: tickPad,
      minRotation: rotation, maxRotation: rotation,
      font: { family: FONT, size },
      callback: fmt
    },
    title: {
      display: !!title, text: title, color: "#111",
      padding: { top: titlePad, bottom: titlePad },
      font: { family: FONT, size: titleSize, style: titleStyle, lineHeight: titleLine }
    }
  };
}

const baseOpts = (padding) => ({
  responsive: false,
  animation: false,
  devicePixelRatio: 1,
  layout: { padding },
  plugins: { legend: { display: false }, tooltip: { enabled: false } }
});

// fills a violin outline: the line element itself is only a border
const violinFill = {
  id: "violinFill",
  beforeDatasetDraw(chart, args) {
    const ds = chart.data.datasets[args.index];
    if (!ds.violin) return;
    const line = chart.getDatasetMeta(args.index).dataset;
    const ctx = chart.ctx;
    line.updateControlPoints(chart.chartArea, "x");
    ctx.save();
    ctx.beginPath();
    line.path(ctx);
    ctx.closePath();
    ctx.fillStyle = ds.violin;
    ctx.fill();
    ctx.restore();
  }
};

// ── B ──
new Chart(document.getElementById("chartUmap"), {
  type: "scatter",
  data: {
    datasets: [
      {
        data: umapCircled.map(([x, y]) => ({ x, y })),
        pointRadius: 15.5, pointBorderColor: "#c8202a", pointBorderWidth: 3,
        pointBackgroundColor: "transparent"
      },
      {
        data: umapColored.map(([x, y]) => ({ x, y })),
        pointRadius: 3.7, pointBorderWidth: 0,
        pointBackgroundColor: umapColored.map(p => p[2])
      },
      {
        data: umapGray.map(([x, y]) => ({ x, y })),
        pointRadius: 3.7, pointBorderWidth: 0, pointBackgroundColor: "#7f7f7f"
      }
    ]
  },
  options: {
    ...baseOpts({ top: 17, right: 26 }),
    scales: {
      x: axis({ min: -4.23, max: 5.69, ticks: umapTicksX, box: 87, size: 22, title: "UMAP1", titlePad: 15 }),
      y: axis({ min: -4, max: 3.98, ticks: umapTicksY, box: 85, size: 22, title: "UMAP2", titlePad: 27 })
    }
  }
});

// ── C ──
new Chart(document.getElementById("chartPerm"), {
  data: {
    datasets: [
      {
        type: "line",
        data: [{ x: permObserved, y: -11.7 }, { x: permObserved, y: 238.9 }],
        borderColor: "#a8323c", borderWidth: 2.5, pointRadius: 0
      },
      {
        type: "bar",
        data: permBins.map((b, i) => ({ x: b, y: permCounts[i] })),
        backgroundColor: "#5a5a5a", barPercentage: 0.88, categoryPercentage: 1
      }
    ]
  },
  options: {
    ...baseOpts({ top: 18, right: 20 }),
    scales: {
      x: { ...axis({ min: -3.7, max: 69.2, ticks: permTicksX, box: 88.5, size: 17, color: "#4d4d4d", title: ["Number of clones specific to", "one of the patients"], titlePad: 2, titleLine: 1.02 }), offset: false },
      y: axis({ min: -11.7, max: 238.9, ticks: permTicksY, box: 88.4, size: 17, color: "#4d4d4d", title: "Count", titlePad: 18 })
    }
  }
});

// ── D ──
function violinDatasets(levels, widths, dots, fills) {
  const out = [{
    data: dots.flatMap((pts, i) => pts.map(([dx, y]) => ({ x: i + dx, y }))),
    pointRadius: 1.5, pointBorderWidth: 0, pointBackgroundColor: "#111", order: 1
  }];
  groups.forEach((g, i) => {
    const left = levels[i].map((y, k) => ({ x: i - widths[i][k], y }));
    const right = levels[i].map((y, k) => ({ x: i + widths[i][k], y })).reverse();
    out.push({
      data: [...left, ...right, left[0]],
      showLine: true, pointRadius: 0,
      tension: levels[i].length > 3 ? 0.25 : 0,
      borderColor: levels[i].length > 3 ? "#444" : "#555",
      borderWidth: 1.5,
      violin: fills[i], order: 2
    });
  });
  return out;
}

fgrDots[0] = fgrDots[0].concat(denseZeroRow.map(dx => [dx, 0]));
fgrDots[3] = fgrDots[3].concat(denseZeroRow.map(dx => [dx, 0]));
ighaDots[0] = ighaDots[0].concat(denseZeroRow.map(dx => [dx, 0]));
ighaDots[5] = ighaDots[5].concat(denseZeroRow.filter((dx, k) => k % 2).map(dx => [dx, 0]));

new Chart(document.getElementById("chartFgr"), {
  type: "scatter",
  data: { datasets: violinDatasets(fgrLevels, fgrWidths, fgrDots, violinColors) },
  plugins: [violinFill],
  options: {
    ...baseOpts({ top: 12, right: 24 }),
    scales: {
      x: axis({ min: -0.59, max: 5.6, ticks: groupTicks, box: 246, size: 23, color: "#333", fmt: v => groups[v], rotation: 40, tickPad: 6 }),
      y: axis({ min: -0.36, max: 7.55, ticks: fgrTicks, box: 132, size: 21, color: "#333", title: "FGR", titleStyle: "italic", titlePad: 72 })
    }
  }
});

new Chart(document.getElementById("chartIgha"), {
  type: "scatter",
  data: { datasets: violinDatasets(ighaLevels, ighaWidths, ighaDots, violinColors) },
  plugins: [violinFill],
  options: {
    ...baseOpts({ top: 16, right: 31 }),
    scales: {
      x: axis({ min: -0.6, max: 5.62, ticks: groupTicks, box: 241.5, size: 23, color: "#333", fmt: v => groups[v], rotation: 40, tickPad: 6 }),
      y: axis({ min: -0.48, max: 9.96, ticks: ighaTicks, box: 103.7, size: 21, color: "#333", fmt: v => v.toFixed(1), title: "IGHA2", titleStyle: "italic", titlePad: 24 })
    }
  }
});

// ── E ──
const isoSeries = [isoIGHG4, isoIGHG3, isoIGHG2, isoIGHG1, isoIGHA2, isoIGHA1];
const isoSeriesColor = [5, 4, 3, 2, 1, 0].map(i => isoColors[i]);
new Chart(document.getElementById("chartIso"), {
  type: "bar",
  data: {
    datasets: isoSeries.map((vals, s) => ({
      data: vals.map((v, i) => ({ x: i, y: v })),
      backgroundColor: isoSeriesColor[s],
      barPercentage: 0.9, categoryPercentage: 1, stack: "iso"
    }))
  },
  options: {
    ...baseOpts({ top: 15, right: 23 }),
    scales: {
      x: { ...axis({ min: -0.6, max: 5.6, ticks: groupTicks, box: 168.6, size: 23, color: "#333", fmt: v => groups[v], rotation: 40, tickPad: 8 }), stacked: true, offset: false },
      y: { ...axis({ min: -0.051, max: 1.05, ticks: isoTicks, box: 103.8, size: 15.5, color: "#333", fmt: v => v.toFixed(2), title: "Proportion", titlePad: 23 }), stacked: true }
    }
  }
});

// legend next to panel E, same colours as the stacks
const legendEl = document.getElementById("isoLegend");
isoNames.forEach((name, i) => {
  const y = 919 + i * 26;
  legendEl.insertAdjacentHTML("beforeend",
    `<div class="swatch" style="top:${y}px;background:${isoColors[i]}"></div>` +
    `<div style="position:absolute;left:1727px;top:${y - 1}px;font-size:21px;line-height:24px;color:#222">${name}</div>`);
});
</script>
</body>
</html>
